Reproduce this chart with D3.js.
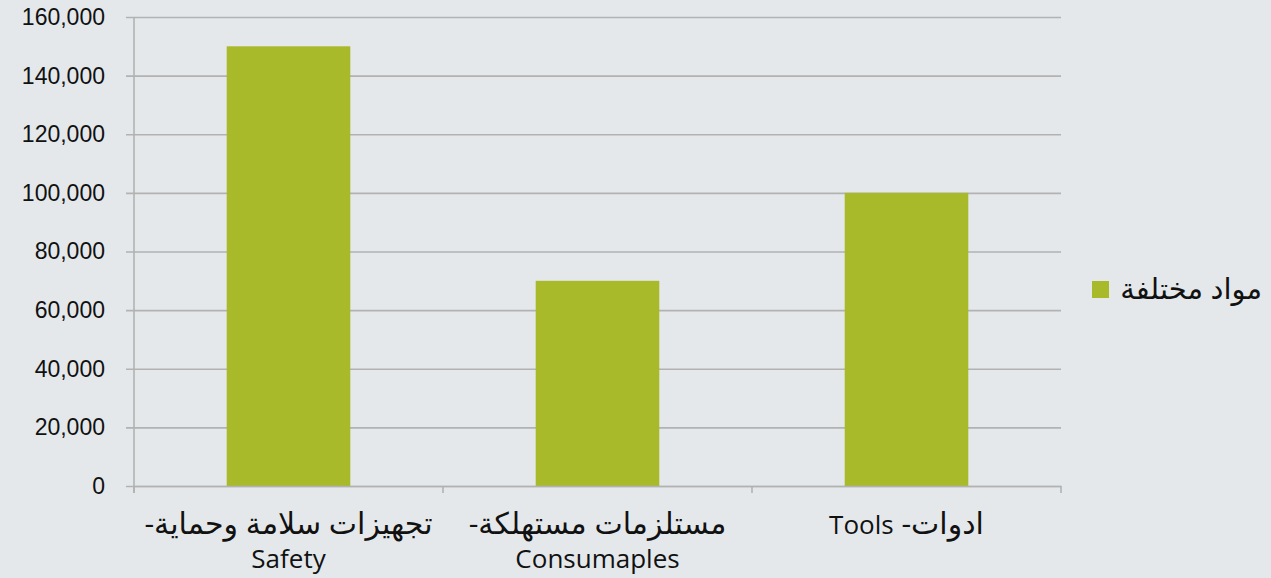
<!DOCTYPE html>
<html>
<head>
<meta charset="utf-8">
<script src="https://cdnjs.cloudflare.com/ajax/libs/d3/7.8.5/d3.min.js"></script>
<style>
  html, body { margin: 0; padding: 0; background: #e4e8eb; }
  svg { display: block; font-family: "Open Sans", "DejaVu Sans", sans-serif; }
</style>
</head>
<body>
<div id="chart"></div>
<script>
// Données
const categories = ["safety", "consumables", "tools"];
const labelLine1 = ["تجهيزات سلامة وحماية-", "مستلزمات مستهلكة-", "ادوات- Tools"];
const labelLine2 = ["Safety", "Consumaples", ""];
const values = [150000, 70000, 100000];
const seriesName = "مواد مختلفة";
const yTicks = [0, 20000, 40000, 60000, 80000, 100000, 120000, 140000, 160000];

const width = 1271;
const height = 578;
const margin = { top: 17, right: 210, bottom: 92, left: 134 };
const chartWidth = width - margin.left - margin.right;
const chartHeight = height - margin.top - margin.bottom;

const barColor = "#a8b92a";
const gridColor = "#b2b2b2";
const arabicSize = "30px";
const latinSize = "26px";

const svg = d3.select("#chart")
  .append("svg")
  .attr("width", width)
  .attr("height", height);

svg.append("rect")
  .attr("width", width)
  .attr("height", height)
  .attr("fill", "#e4e8eb");

const g = svg.append("g")
  .attr("transform", `translate(${margin.left},${margin.top})`);

// Échelles
const x = d3.scaleBand()
  .domain(categories)
  .range([0, chartWidth])
  .paddingInner(0.6)
  .paddingOuter(0.3);

const xCells = d3.scaleBand()
  .domain(categories)
  .range([0, chartWidth])
  .padding(0);

const y = d3.scaleLinear()
  .domain([0, 160000])
  .range([chartHeight, 0]);

// Grille + axe Y
const yAxis = g.append("g")
  .call(d3.axisLeft(y)
    .tickValues(yTicks)
    .tickSize(-chartWidth)
    .tickSizeOuter(0)
    .tickFormat(d3.format(",")));

yAxis.select(".domain").remove();
yAxis.selectAll(".tick line")
  .attr("stroke", gridColor)
  .attr("stroke-width", 1.6)
  .attr("x1", -8);
yAxis.selectAll(".tick text")
  .attr("x", -29)
  .attr("fill", "#111")
  .style("font-size", "23px");

// Ligne verticale de l'axe
g.append("line")
  .attr("x1", 0).attr("x2", 0)
  .attr("y1", 0).attr("y2", chartHeight + 7)
  .attr("stroke", gridColor)
  .attr("stroke-width", 1.6);

// Barres
g.selectAll(".bar")
  .data(values)
  .enter()
  .append("rect")
  .attr("class", "bar")
  .attr("x", (d, i) => x(categories[i]))
  .attr("width", x.bandwidth())
  .attr("y", (d) => y(d))
  .attr("height", (d) => chartHeight - y(d))
  .attr("fill", barColor);

// Axe X
const xAxis = g.append("g")
  .attr("transform", `translate(0,${chartHeight})`)
  .call(d3.axisBottom(xCells).tickSize(0).tickFormat(""));
xAxis.select(".domain")
  .attr("stroke", gridColor)
  .attr("stroke-width", 1.6);

const boundaries = categories.map((c) => xCells(c)).concat([chartWidth]);
g.selectAll(".xtick")
  .data(boundaries)
  .enter()
  .append("line")
  .attr("x1", (d) => d).attr("x2", (d) => d)
  .attr("y1", chartHeight).attr("y2", chartHeight + 7)
  .attr("stroke", gridColor)
  .attr("stroke-width", 1.6);

// Libellés des catégories (arabe plus grand que le latin)
const labels = g.selectAll(".xlabel")
  .data(categories)
  .enter()
  .append("g")
  .attr("transform", (c) => `translate(${x(c) + x.bandwidth() / 2},${chartHeight})`);

labels.append("text")
  .attr("y", 48)
  .attr("direction", "rtl")
  .attr("text-anchor", "middle")
  .attr("fill", "#111")
  .each(function (c, i) {
    const parts = labelLine1[i].split(/([A-Za-z][A-Za-z ]*)/).filter((p) => p !== "");
    d3.select(this)
      .selectAll("tspan")
      .data(parts)
      .enter()
      .append("tspan")
      .style("font-size", (p) => (/[A-Za-z]/.test(p) ? latinSize : arabicSize))
      .text((p) => p);
  });

labels.append("text")
  .attr("y", 82)
  .attr("text-anchor", "middle")
  .attr("fill", "#111")
  .style("font-size", latinSize)
  .text((c, i) => labelLine2[i]);

// Légende
const legend = svg.append("g")
  .attr("transform", `translate(1092,281)`);

legend.append("rect")
  .attr("width", 17)
  .attr("height", 17)
  .attr("fill", barColor);

legend.append("text")
  .attr("x", 170)
  .attr("y", 8)
  .attr("dy", "0.35em")
  .attr("direction", "ltr")
  .attr("text-anchor", "end")
  .attr("fill", "#111")
  .style("font-size", "29px")
  .text(seriesName);
</script>
</body>
</html>
